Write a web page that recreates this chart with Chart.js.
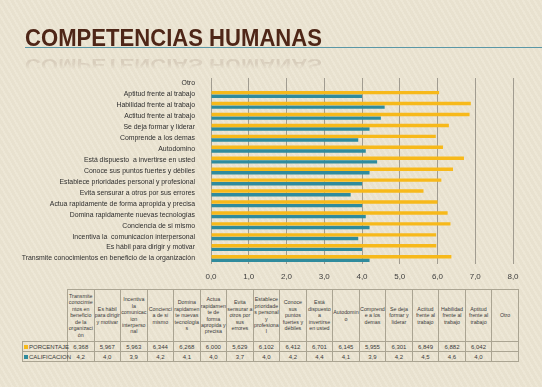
<!DOCTYPE html>
<html>
<head>
<meta charset="utf-8">
<script src="https://cdn.jsdelivr.net/npm/chart.js@4.4.1/dist/chart.umd.min.js"></script>
<style>
  html, body { margin: 0; padding: 0; }
  body {
    width: 542px; height: 387px; overflow: hidden; position: relative;
    background-color: #ebe4d1;
    background-image: repeating-linear-gradient(60deg, rgba(255,255,255,0.10) 0px, rgba(255,255,255,0.10) 2px, rgba(0,0,0,0.012) 2px, rgba(0,0,0,0.012) 5px);
    font-family: 'Liberation Sans', Arial, sans-serif;
  }
  #title, #reflect {
    position: absolute; left: 25px; top: 24px; margin: 0;
    font-size: 24px; font-weight: bold; color: #4e2617; line-height: 28px;
    transform-origin: left top; white-space: nowrap;
  }
  #reflect {
    opacity: 0.10;
    -webkit-mask-image: linear-gradient(to top, rgba(0,0,0,1) 45%, rgba(0,0,0,0) 75%);
    mask-image: linear-gradient(to top, rgba(0,0,0,1) 45%, rgba(0,0,0,0) 75%);
  }
  #rule { position: absolute; left: 25px; right: 0; top: 47px; height: 1px; background: #5a97a6; }
  #wrap { position: absolute; left: 0; top: 60px; width: 542px; height: 224px; }
  #tbl {
    position: absolute; left: 22px; top: 289px; width: 497px;
    border-collapse: collapse; table-layout: fixed; color: #3a3a3a;
  }
  #tbl td { border: 1px solid #aaa492; text-align: center; padding: 0; overflow: hidden; }
  #tbl tr.head td { height: 51px; font-size: 5.3px; line-height: 6.4px; overflow-wrap: anywhere; vertical-align: middle; }
  #tbl tr.val td { height: 9px; font-size: 6px; line-height: 8px; }
  #tbl td.lab { text-align: left; font-size: 5px; padding-left: 1px; white-space: nowrap; overflow: visible; }
  #tbl td.corner { border: none; }
  .key { display: inline-block; width: 4px; height: 4px; margin-right: 1px; vertical-align: middle; }
</style>
</head>
<body>
<div id="reflect">COMPETENCIAS HUMANAS</div>
<div id="title">COMPETENCIAS HUMANAS</div>
<div id="rule"></div>
<div id="wrap"><canvas id="chart"></canvas></div>
<table id="tbl"></table>
<script>
const categories = [
  'Transmite conocimientos en beneficio de la organización',
  'Es hábil para dirigir y motivar',
  'Incentiva la  comunicacion interpersonal',
  'Conciencia de si mismo',
  'Domina rapidamente nuevas tecnologías',
  'Actua rapidamente de forma apropida y precisa',
  'Evita sensurar a otros por sus errores',
  'Establece prioridades personal y profesional',
  'Conoce sus puntos fuertes y débiles',
  'Está dispuesto  a invertirse en usted',
  'Autodomino',
  'Comprende a los demas',
  'Se deja formar y liderar',
  'Actitud frente al trabajo',
  'Habilidad frente al trabajo',
  'Aptitud frente al trabajo',
  'Otro'
];
const porcentaje = [6.368, 5.967, 5.963, 6.344, 6.268, 6.000, 5.629, 6.102, 6.412, 6.701, 6.145, 5.955, 6.301, 6.849, 6.882, 6.042, null];
const calificacion = [4.2, 4.0, 3.9, 4.2, 4.1, 4.0, 3.7, 4.0, 4.2, 4.4, 4.1, 3.9, 4.2, 4.5, 4.6, 4.0, null];
const xTicks = [0, 1, 2, 3, 4, 5, 6, 7, 8];

const orange = '#f7b91a';
const teal = '#2f8b9d';

// fit title width to the reference, plus a faint mirrored copy below it
(function () {
  const t = document.getElementById('title');
  const r = document.getElementById('reflect');
  const w = t.getBoundingClientRect().width;
  const sx = 297 / w;
  t.style.transform = 'scaleX(' + sx + ')';
  r.style.transform = 'translateY(50px) scale(' + sx + ', -0.7)';
})();

function fmt3(v) { return v == null ? '' : v.toFixed(3).replace('.', ','); }
function fmt1(v) { return v == null ? '' : v.toFixed(1).replace('.', ','); }

// data table under the chart
(function () {
  const tbl = document.getElementById('tbl');
  let html = '<colgroup><col style="width:45px">';
  categories.forEach(() => { html += '<col>'; });
  html += '</colgroup>';
  html += '<tr class="head"><td class="corner"></td>';
  categories.forEach((c) => { html += '<td>' + c + '</td>'; });
  html += '</tr>';
  html += '<tr class="val"><td class="lab"><span class="key" style="background:' + orange + '"></span>PORCENTAJE</td>';
  porcentaje.forEach((v) => { html += '<td>' + fmt3(v) + '</td>'; });
  html += '</tr>';
  html += '<tr class="val"><td class="lab"><span class="key" style="background:' + teal + '"></span>CALIFICACION</td>';
  calificacion.forEach((v) => { html += '<td>' + fmt1(v) + '</td>'; });
  html += '</tr>';
  tbl.innerHTML = html;
})();

Chart.defaults.animation = false;
Chart.defaults.font.family = "'Liberation Sans', Arial, sans-serif";

new Chart(document.getElementById('chart').getContext('2d'), {
  type: 'bar',
  data: {
    labels: categories,
    datasets: [
      { label: 'PORCENTAJE', data: porcentaje, backgroundColor: orange, barPercentage: 0.95, categoryPercentage: 0.66 },
      { label: 'CALIFICACION', data: calificacion, backgroundColor: teal, barPercentage: 0.95, categoryPercentage: 0.66 }
    ]
  },
  options: {
    indexAxis: 'y',
    responsive: true,
    maintainAspectRatio: false,
    animation: false,
    layout: { padding: { top: 18, right: 29, left: 0, bottom: 0 } },
    plugins: {
      legend: { display: false },
      tooltip: { enabled: false }
    },
    scales: {
      x: {
        min: 0, max: 8,
        afterBuildTicks: (axis) => { axis.ticks = xTicks.map((v) => ({ value: v })); },
        afterFit: (axis) => { axis.height = 20; },
        grid: { color: '#a19c90', lineWidth: 1, drawTicks: false },
        border: { display: false },
        ticks: {
          padding: 8,
          color: '#3d3d3d',
          font: { size: 8 },
          callback: (v) => Number(v).toFixed(1).replace('.', ',')
        }
      },
      y: {
        reverse: true,
        afterFit: (axis) => { axis.width = 211; },
        grid: { display: false },
        border: { display: false },
        ticks: {
          padding: 8,
          color: '#2e2e2e',
          font: { size: 6.9 },
          autoSkip: false
        }
      }
    }
  }
});
</script>
</body>
</html>
